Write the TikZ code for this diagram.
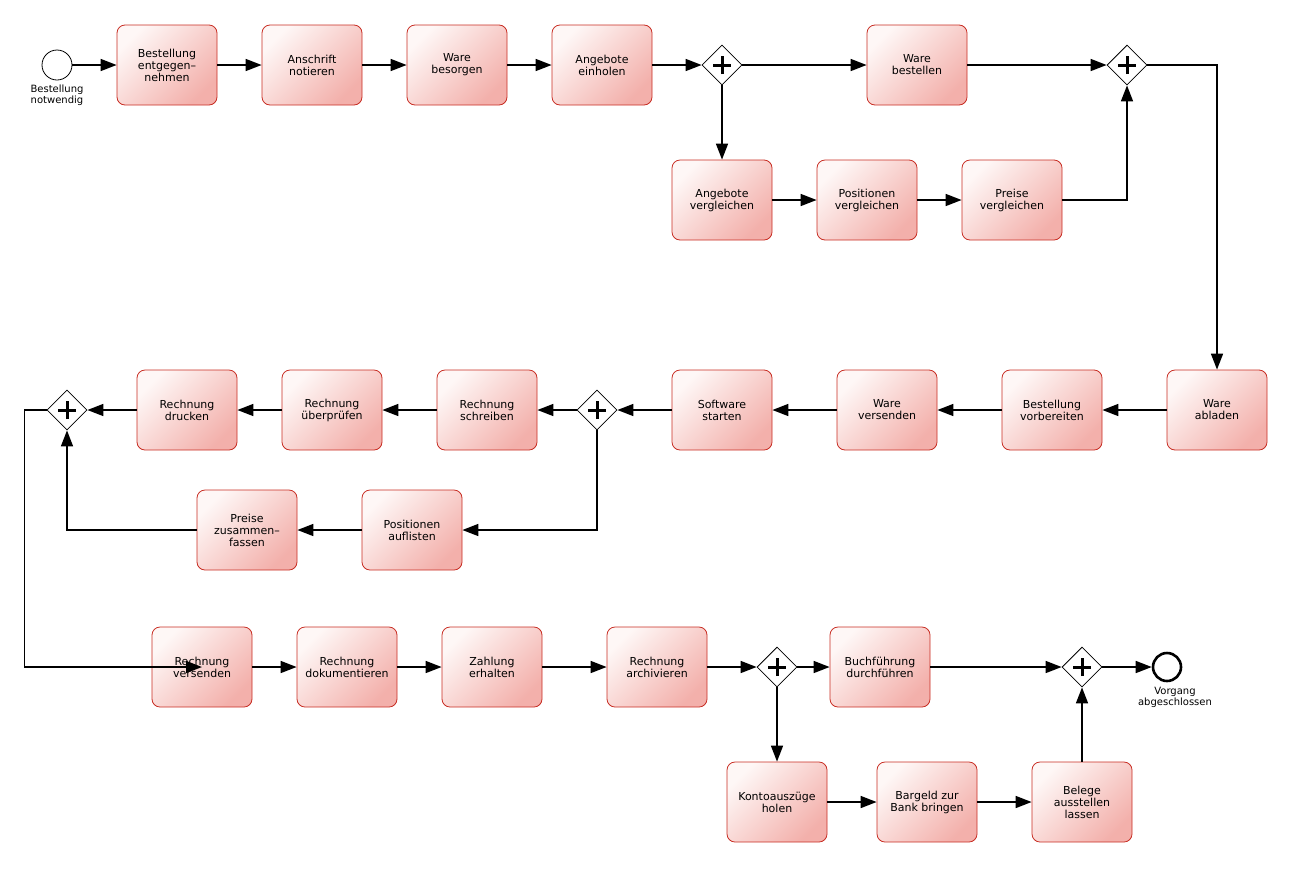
\documentclass[tikz,border=0pt]{standalone}
\usepackage{fontspec}
\setmainfont{DejaVu Sans}
\usetikzlibrary{shapes.geometric,arrows.meta}
\definecolor{taskline}{RGB}{200,45,35}
\definecolor{tasklight}{RGB}{254,247,246}
\definecolor{taskdark}{RGB}{243,176,171}

\begin{document}
\begin{tikzpicture}[x=1pt,y=-1pt,
  task/.style={draw=taskline,line width=0.8pt,rounded corners=8pt,minimum width=100pt,minimum height=80pt,inner sep=0pt,align=center,top color=tasklight,bottom color=taskdark,shading angle=45,font=\fontsize{11}{12}\selectfont},
  gate/.style={diamond,draw,fill=white,line width=0.8pt,minimum width=40pt,minimum height=40pt,inner sep=0pt,
    path picture={\draw[line width=3pt] ([xshift=-9pt]path picture bounding box.center) -- ([xshift=9pt]path picture bounding box.center);
      \draw[line width=3pt] ([yshift=-9pt]path picture bounding box.center) -- ([yshift=9pt]path picture bounding box.center);}},
  flow/.style={line width=1.6pt,-{Triangle[length=16pt,width=12pt]}},
  evlabel/.style={font=\fontsize{10}{10.5}\selectfont,align=center,inner sep=0pt,anchor=north}]
\useasboundingbox (0,0) rectangle (1292,868);

\node[circle,draw,line width=0.8pt,minimum size=30pt,inner sep=0pt] (start) at (57,65) {};
\node[evlabel] (startlbl) at (57,85) {Bestellung\\notwendig};
\node[task] (be) at (167,65) {Bestellung\\entgegen–\\nehmen};
\node[task] (an) at (312,65) {Anschrift\\notieren};
\node[task] (wbs) at (457,65) {Ware\\besorgen};
\node[task] (ae) at (602,65) {Angebote\\einholen};
\node[gate] (g1) at (722,65) {};
\node[task] (wb) at (917,65) {Ware\\bestellen};
\node[gate] (g2) at (1127,65) {};

\node[task] (av) at (722,200) {Angebote\\vergleichen};
\node[task] (pv) at (867,200) {Positionen\\vergleichen};
\node[task] (prv) at (1012,200) {Preise\\vergleichen};

\node[task] (wa) at (1217,410) {Ware\\abladen};
\node[task] (bv) at (1052,410) {Bestellung\\vorbereiten};
\node[task] (wv) at (887,410) {Ware\\versenden};
\node[task] (ss) at (722,410) {Software\\starten};
\node[gate] (g3) at (597,410) {};
\node[task] (rs) at (487,410) {Rechnung\\schreiben};
\node[task] (ru) at (332,410) {Rechnung\\überprüfen};
\node[task] (rd) at (187,410) {Rechnung\\drucken};
\node[gate] (g4) at (67,410) {};

\node[task] (pa) at (412,530) {Positionen\\auflisten};
\node[task] (pz) at (247,530) {Preise\\zusammen–\\fassen};

\node[task] (rv) at (202,667) {Rechnung\\versenden};
\node[task] (rdok) at (347,667) {Rechnung\\dokumentieren};
\node[task] (ze) at (492,667) {Zahlung\\erhalten};
\node[task] (ra) at (657,667) {Rechnung\\archivieren};
\node[gate] (g5) at (777,667) {};
\node[task] (bf) at (880,667) {Buchführung\\durchführen};
\node[gate] (g6) at (1082,667) {};
\node[circle,draw,line width=2.6pt,minimum size=28pt,inner sep=0pt] (end) at (1167,667) {};
\node[evlabel] (endlbl) at (1175,687) {Vorgang\\abgeschlossen};

\node[task] (kh) at (777,802) {Kontoauszüge\\holen};
\node[task] (bb) at (927,802) {Bargeld zur\\Bank bringen};
\node[task] (ba) at (1082,802) {Belege\\ausstellen\\lassen};

\draw[flow] (start) -- (be);
\draw[flow] (be) -- (an);
\draw[flow] (an) -- (wbs);
\draw[flow] (wbs) -- (ae);
\draw[flow] (ae) -- (g1);
\draw[flow] (g1) -- (wb);
\draw[flow] (wb) -- (g2);
\draw[flow] (g1) -- (av);
\draw[flow] (av) -- (pv);
\draw[flow] (pv) -- (prv);
\draw[flow] (prv) -| (g2);
\draw[flow] (g2) -| (wa);
\draw[flow] (wa) -- (bv);
\draw[flow] (bv) -- (wv);
\draw[flow] (wv) -- (ss);
\draw[flow] (ss) -- (g3);
\draw[flow] (g3) -- (rs);
\draw[flow] (rs) -- (ru);
\draw[flow] (ru) -- (rd);
\draw[flow] (rd) -- (g4);
\draw[flow] (g3) |- (pa);
\draw[flow] (pa) -- (pz);
\draw[flow] (pz) -| (g4);
\draw[flow] (g4.west) -- ++(-22,0) |- (rv.center);
\draw[flow] (rv) -- (rdok);
\draw[flow] (rdok) -- (ze);
\draw[flow] (ze) -- (ra);
\draw[flow] (ra) -- (g5);
\draw[flow] (g5) -- (bf);
\draw[flow] (bf) -- (g6);
\draw[flow] (g6) -- (end);
\draw[flow] (g5) -- (kh);
\draw[flow] (kh) -- (bb);
\draw[flow] (bb) -- (ba);
\draw[flow] (ba) -- (g6);
\end{tikzpicture}
\end{document}
